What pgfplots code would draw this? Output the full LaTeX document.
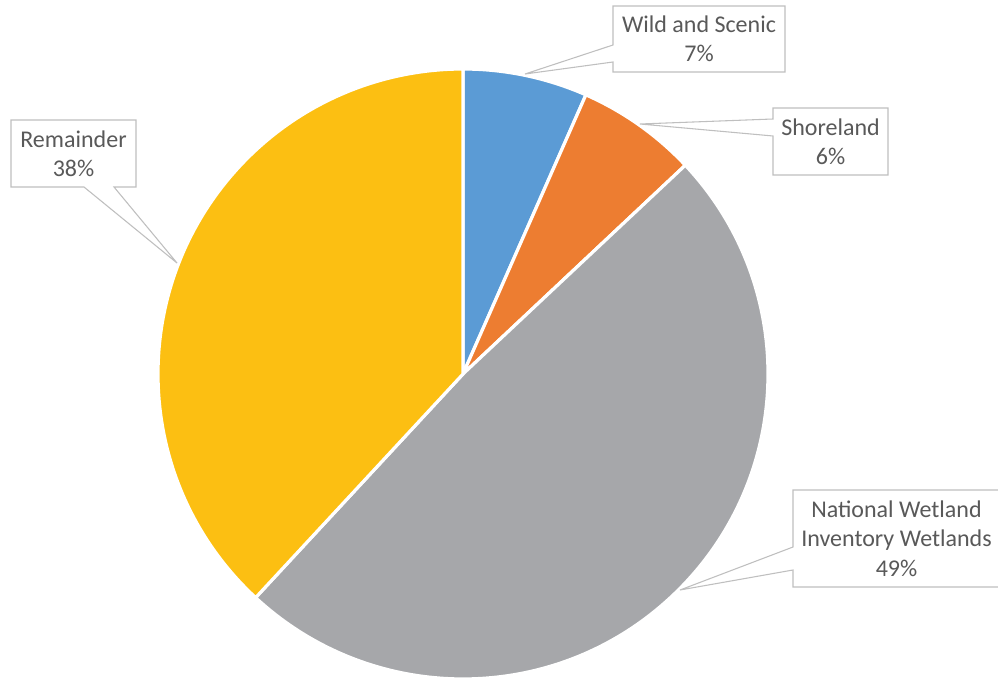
\documentclass[border=0pt]{standalone}
\usepackage{fontspec}
\setmainfont{Carlito}
\usepackage{pgfplots}
\pgfplotsset{compat=1.18}
\definecolor{cBlue}{HTML}{5B9BD5}
\definecolor{cOrange}{HTML}{ED7D31}
\definecolor{cGray}{HTML}{A6A7AA}
\definecolor{cYellow}{HTML}{FCBF12}
\definecolor{cText}{HTML}{595959}
\definecolor{cLine}{HTML}{BFBFBF}
\begin{document}
\begin{tikzpicture}
\useasboundingbox (0,0) rectangle (748.5pt,509.25pt);
\clip (0,0) rectangle (748.5pt,509.25pt);
\begin{axis}[
  at={(0,0)}, anchor=south west,
  scale only axis, width=748.5pt, height=509.25pt,
  xmin=0, xmax=998, ymin=0, ymax=679,
  hide axis, clip=false,
]
\addplot[draw=none] coordinates {(0,0) (998,679)};
\pgfplotsextra{
  % share of each slice (percent), clockwise from 12 o'clock
  \foreach \v/\col [evaluate=\v as \e using \s+\v, remember=\e as \s (initially 0)]
    in {6.6/cBlue, 6.4/cOrange, 48.9/cGray, 38.1/cYellow}{
    \filldraw[fill=\col, draw=white, line width=2.4pt, line join=round]
      (axis cs:463,305) -- ++({90-3.6*\s}:228.75pt)
      arc[start angle={90-3.6*\s}, end angle={90-3.6*\e}, radius=228.75pt] -- cycle;
  }
  \tikzset{callout/.style={draw=cLine, fill=white, line width=0.8pt, line join=miter},
           lab/.style={text=cText, align=center, font=\fontsize{18}{22}\selectfont, inner sep=0pt}}
  % Wild and Scenic
  \filldraw[callout] (axis cs:613,673) -- (axis cs:785,673) -- (axis cs:785,607) -- (axis cs:613,607)
     -- (axis cs:613,617) -- (axis cs:525,605) -- (axis cs:613,634) -- cycle;
  \node[lab] at (axis cs:699,640) {Wild and Scenic\\7\%};
  % Shoreland
  \filldraw[callout] (axis cs:773,571) -- (axis cs:888,571) -- (axis cs:888,504) -- (axis cs:773,504)
     -- (axis cs:773,543) -- (axis cs:640,555) -- (axis cs:773,560) -- cycle;
  \node[lab] at (axis cs:830.5,537.5) {Shoreland\\6\%};
  % Remainder
  \filldraw[callout] (axis cs:11,559) -- (axis cs:136,559) -- (axis cs:136,492) -- (axis cs:114,492)
     -- (axis cs:177,416) -- (axis cs:84,492) -- (axis cs:11,492) -- cycle;
  \node[lab] at (axis cs:73.5,525.5) {Remainder\\38\%};
  % National Wetland Inventory Wetlands
  \filldraw[callout] (axis cs:793,189) -- (axis cs:1003,189) -- (axis cs:1003,92) -- (axis cs:793,92)
     -- (axis cs:793,109) -- (axis cs:680,89) -- (axis cs:793,132) -- cycle;
  \node[lab] at (axis cs:896.5,140.5) {National Wetland\\Inventory Wetlands\\49\%};
}
\end{axis}
\end{tikzpicture}
\end{document}
